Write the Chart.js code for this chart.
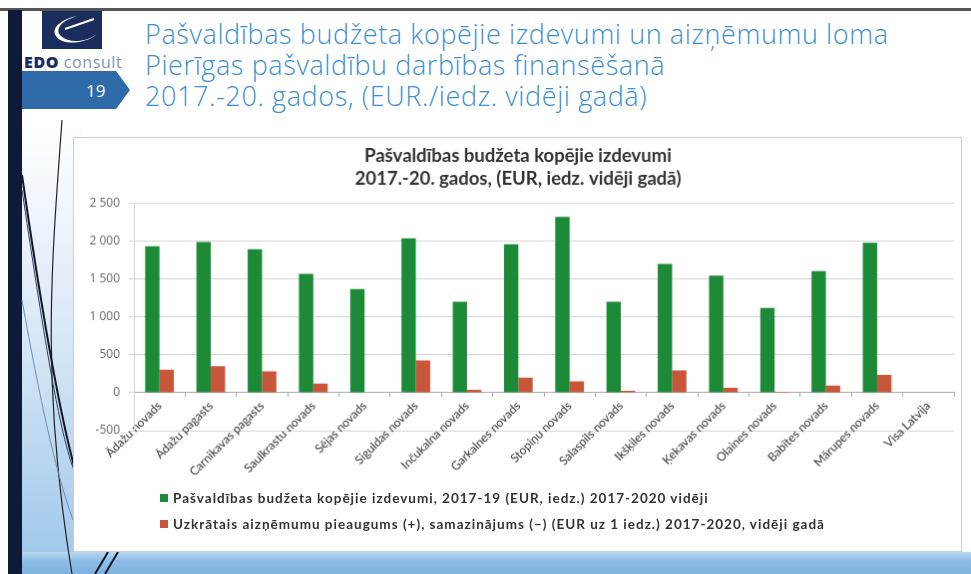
<!DOCTYPE html>
<html>
<head>
<meta charset="utf-8">
<script src="https://cdn.jsdelivr.net/npm/chart.js@4"></script>
<style>
  body { margin: 0; width: 971px; height: 574px; background: #fff; position: relative; overflow: hidden; font-family: Lato, "Open Sans", sans-serif; }
  .topline { position: absolute; left: 0; top: 8px; width: 971px; height: 3px; background: #555; }
  .leftbar { position: absolute; left: 8px; top: 10px; width: 14px; height: 564px; background: #0e1a3a; }
  .glow { position: absolute; left: 22px; top: 120px; width: 60px; height: 454px;
          background: linear-gradient(180deg, #ffffff 0%, #dbe9f7 45%, #9cc6ea 100%); }
  .bottomband { position: absolute; left: 22px; top: 552px; width: 949px; height: 22px;
                background: linear-gradient(180deg, #bcd8f0 0%, #8dbde6 40%, #7fb2e0 100%); }
  .logo { position: absolute; left: 42px; top: 11px; width: 60px; height: 38px; background: #1b2d5c; }
  .brand { position: absolute; left: 24px; top: 51px; font: 16px "Open Sans", sans-serif; color: #7f93b0; letter-spacing: 0.6px; }
  .brand b { color: #1b2d5c; font-weight: 800; }
  .badge { position: absolute; left: 22px; top: 71px; width: 108px; height: 38px; }
  .heading { position: absolute; left: 145px; top: 18px; font: 300 27px "Open Sans", sans-serif; color: #3b8fd2; line-height: 31px; letter-spacing: 0.6px; }
  #box { position: absolute; left: 73px; top: 137px; border: 1px solid #cfcfcf; background: #fff; }
  .legend { position: absolute; left: 160px; top: 485px; font: bold 13.5px Lato, sans-serif; color: #333; letter-spacing: 1px; }
  .legend div { height: 26px; display: flex; align-items: center; }
  .legend span { display: inline-block; width: 8px; height: 8px; margin-right: 5px; }
</style>
</head>
<body>
<div class="topline"></div>
<div class="glow"></div>
<div class="bottomband"></div>
<div class="leftbar"></div>
<svg style="position:absolute;left:0;top:0" width="140" height="574">
  <path d="M62 120 C 52 260, 40 380, 72 574" stroke="#22222a" stroke-width="1.2" fill="none"/>
  <path d="M22 175 C 40 300, 60 420, 78 480" stroke="#101828" stroke-width="2" fill="none"/>
  <path d="M22 190 C 40 310, 58 430, 74 470" stroke="#2a3b5c" stroke-width="1" fill="none"/>
  <path d="M22 300 C 40 400, 55 470, 73 520" stroke="#6f8fb0" stroke-width="1" fill="none"/>
  <path d="M95 574 L 108 552" stroke="#101828" stroke-width="2" fill="none"/>
  <path d="M105 574 L 118 552" stroke="#101828" stroke-width="2" fill="none"/>
</svg>
<div class="logo">
  <svg width="60" height="38"><path d="M36 5 C 20 9, 12 18, 19 25 C 27 33, 45 31, 55 23 C 44 33, 20 35, 14 25 C 8 16, 22 7, 36 5 Z" fill="#fff"/><path d="M23 18 L 52 8" stroke="#fff" stroke-width="2"/></svg>
</div>
<div class="brand"><b>EDO</b> consult</div>
<svg class="badge" width="108" height="38"><path d="M0 0 H 94 L 108 19 L 94 38 H 0 Z" fill="#2e6aa8"/><text x="64" y="26" font-family="Open Sans" font-size="17" fill="#fff">19</text></svg>
<div class="heading">Pašvaldības budžeta kopējie izdevumi un aizņēmumu loma<br>Pierīgas pašvaldību darbības finansēšanā<br>2017.-20. gados, (EUR./iedz. vidēji gadā)</div>

<canvas id="box" width="889" height="415"></canvas>
<div class="legend" id="legend"></div>

<script>
// dati no attēla (EUR uz 1 iedzīvotāju)
const categories = ['Ādažu novads', 'Ādažu pagasts', 'Carnikavas pagasts', 'Saulkrastu novads', 'Sējas novads',
  'Siguldas novads', 'Inčukalna novads', 'Garkalnes novads', 'Stopiņu novads', 'Salaspils novads',
  'Ikšķiles novads', 'Ķekavas novads', 'Olaines novads', 'Babītes novads', 'Mārupes novads', 'Visa Latvija'];
const izdevumi = [1935, 1990, 1895, 1570, 1370, 2040, 1200, 1960, 2320, 1200, 1700, 1545, 1120, 1605, 1980, 0];
const aiznemumi = [305, 350, 280, 120, -8, 425, 40, 200, 150, 25, 295, 65, 12, 95, 235, 0];
const yTicks = [-500, 0, 500, 1000, 1500, 2000, 2500];

const seriesNames = [
  'Pašvaldības budžeta kopējie izdevumi, 2017-19 (EUR, iedz.) 2017-2020 vidēji',
  'Uzkrātais aizņēmumu pieaugums (+), samazinājums (–) (EUR uz 1 iedz.) 2017-2020, vidēji gadā'
];
const colors = ['#1d8a37', '#c8563a'];

const chartCanvas = document.getElementById('box');

const data = {
  labels: categories,
  datasets: [
    { label: seriesNames[0], data: izdevumi, backgroundColor: colors[0] },
    { label: seriesNames[1], data: aiznemumi, backgroundColor: colors[1] }
  ]
};

const config = {
  type: 'bar',
  data: data,
  options: {
    responsive: false,
    animation: false,
    layout: { padding: { left: 8, right: 7, bottom: 121 } },
    datasets: { bar: { categoryPercentage: 0.56, barPercentage: 1 } },
    plugins: {
      legend: { display: false },
      tooltip: { enabled: false },
      title: {
        display: true,
        text: ['Pašvaldības budžeta kopējie izdevumi', '2017.-20. gados, (EUR, iedz. vidēji gadā)'],
        color: '#333',
        font: { family: 'Lato', size: 18.5, weight: 'bold', lineHeight: 1.26 },
        padding: { top: 6, bottom: 13 }
      }
    },
    scales: {
      x: {
        position: { y: 0 },
        grid: { display: true, drawOnChartArea: false, offset: true, tickLength: 4, color: '#aaa' },
        border: { color: '#aaa' },
        ticks: { color: '#333', font: { family: 'Lato', size: 12 }, minRotation: 45, maxRotation: 45, padding: 2 }
      },
      y: {
        min: -500,
        max: 2500,
        afterBuildTicks: (scale) => { scale.ticks = yTicks.map(v => ({ value: v })); },
        afterFit: (scale) => { scale.width = 52; },
        grid: { color: '#d4d4d4', tickLength: 5 },
        border: { color: '#d4d4d4' },
        ticks: {
          color: '#666',
          padding: 9,
          font: { family: 'Open Sans', size: 12 },
          callback: (v) => String(v).replace(/\B(?=(\d{3})+(?!\d))/g, ' ')
        }
      }
    }
  }
};

const myChart = new Chart(chartCanvas, config);

// leģenda zem grafika
const legendEl = document.getElementById('legend');
data.datasets.forEach((ds) => {
  const row = document.createElement('div');
  row.innerHTML = '<span style="background:' + ds.backgroundColor + '"></span>' + ds.label;
  legendEl.appendChild(row);
});
</script>
</body>
</html>
